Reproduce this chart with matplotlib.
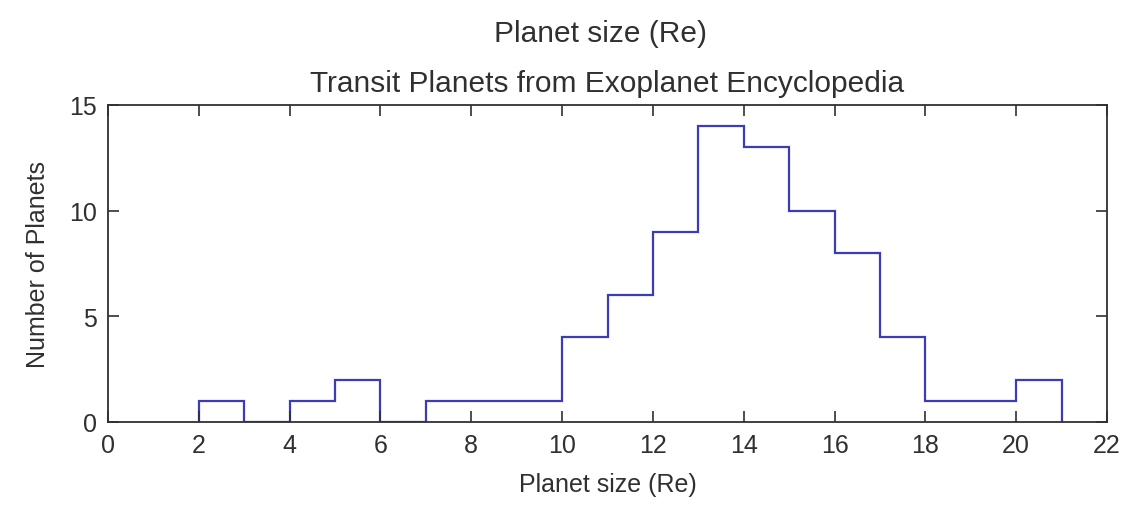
import numpy as np
import matplotlib
matplotlib.use('Agg')
import matplotlib.pyplot as plt

plt.rcParams['font.family'] = ['Liberation Sans', 'DejaVu Sans']

# histogram of planet radii, 1 Re bins
bin_edges = [2, 3, 4, 5, 6, 7, 8, 9, 10, 11, 12, 13, 14, 15, 16, 17, 18, 19, 20, 21]
counts = [1, 0, 1, 2, 0, 1, 1, 1, 4, 6, 9, 14, 13, 10, 8, 4, 1, 1, 2]
x_ticks = [0, 2, 4, 6, 8, 10, 12, 14, 16, 18, 20, 22]
y_ticks = [0, 5, 10, 15]

txt = '#303030'
fs = 18
fs_big = 21.5

fig = plt.figure(figsize=(11.27, 5.06), dpi=100)
ax = fig.add_axes([108/1127, 1 - 423/506, 999/1127, 317/506])

ax.stairs(counts, bin_edges, color='#3c3cb4', linewidth=1.6)

ax.set_xlim(0, 22)
ax.set_ylim(0, 15)
ax.set_xticks(x_ticks)
ax.set_yticks(y_ticks)
ax.tick_params(direction='in', length=8, width=1.2, color='#303030',
               top=True, right=True, labelsize=fs, labelcolor=txt, pad=8)
for s in ax.spines.values():
    s.set_color('#303030')
    s.set_linewidth(1.3)

ax.set_xlabel('Planet size (Re)', fontsize=fs, color=txt, labelpad=11)
ax.set_ylabel('Number of Planets', fontsize=fs, color=txt, labelpad=14)
ax.set_title('Transit Planets from Exoplanet Encyclopedia', fontsize=fs_big, color=txt, pad=10)

# x label of the panel above, and the bottom of its tick labels
fig.text(601/1127, 1 - 34/506, 'Planet size (Re)', fontsize=fs_big, color=txt,
         ha='center', va='center')
for t in x_ticks:
    xf = (108 + t / 22 * 999) / 1127
    fig.text(xf, 1.014, str(t), fontsize=fs, color='#e0e0e0', ha='center', va='center')

fig.savefig('out.png', dpi=100)
